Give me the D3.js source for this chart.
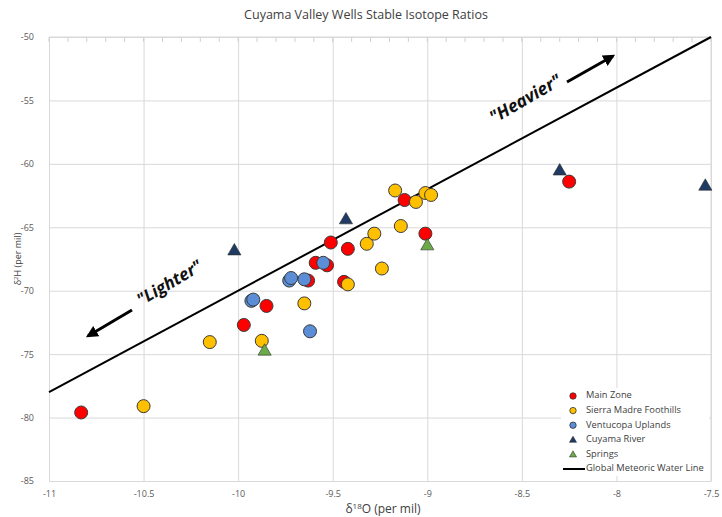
<!DOCTYPE html>
<html><head><meta charset="utf-8">
<script src="https://cdn.jsdelivr.net/npm/d3@7"></script>
<style>
body{margin:0;background:#fff;}
text{font-family:"Open Sans","Liberation Sans",sans-serif;}
</style></head>
<body><svg id="c" width="722" height="517"></svg>
<script>
const title = "Cuyama Valley Wells Stable Isotope Ratios";
const xTicks = [-11,-10.5,-10,-9.5,-9,-8.5,-8,-7.5];
const yTicks = [-85,-80,-75,-70,-65,-60,-55,-50];
const mainZone = [[-10.83,-79.6],[-9.97,-72.7],[-9.85,-71.2],[-9.51,-66.2],[-9.42,-66.7],[-9.59,-67.8],[-9.53,-68.0],[-9.63,-69.2],[-9.44,-69.3],[-9.12,-62.85],[-9.01,-65.5],[-8.25,-61.4]];
const sierraMadre = [[-10.50,-79.1],[-10.15,-74.05],[-9.875,-73.95],[-9.65,-71.0],[-9.42,-69.5],[-9.24,-68.25],[-9.32,-66.3],[-9.28,-65.5],[-9.14,-64.9],[-9.17,-62.1],[-9.06,-63.0],[-9.01,-62.3],[-8.98,-62.45]];
const ventucopa = [[-9.93,-70.8],[-9.92,-70.7],[-9.73,-69.2],[-9.72,-69.0],[-9.65,-69.1],[-9.55,-67.8],[-9.62,-73.2]];
const cuyamaRiver = [[-10.02,-66.8],[-9.43,-64.35],[-8.30,-60.5],[-7.53,-61.7]];
const springs = [[-9.86,-74.7],[-9.0,-66.4]];
const gmwlX = [-11,-7.5];
const gmwl = x => 8*x + 10;

const svg = d3.select("#c");
const L=49,R=711,T=37,B=481;
const x = d3.scaleLinear([-11,-7.5],[L,R]);
const y = d3.scaleLinear([-85,-50],[B,T]);

// gridlines
const gx = svg.append("g").attr("transform",`translate(0,${B})`)
  .call(d3.axisBottom(x).tickValues(xTicks).tickSizeInner(-(B-T)).tickSizeOuter(0).tickPadding(10).tickFormat(d=>String(d)));
const gy = svg.append("g").attr("transform",`translate(${L},0)`)
  .call(d3.axisLeft(y).tickValues(yTicks).tickSizeInner(-(R-L)).tickSizeOuter(0).tickPadding(15).tickFormat(d=>String(d)));
[gx,gy].forEach(g=>{
  g.select(".domain").attr("stroke","#d9d9d9");
  g.selectAll(".tick line").attr("stroke","#d9d9d9");
  g.selectAll(".tick text").attr("fill","#595959").style("font-size","9px");
});
// top axis minor ticks
const minor = d3.range(-11,-7.49,0.1);
svg.append("g").selectAll("line").data(minor).join("line")
  .attr("x1",d=>x(d)).attr("x2",d=>x(d)).attr("y1",T).attr("y2",T+5)
  .attr("stroke","#d0d0d0");
svg.append("line").attr("x1",L).attr("x2",R).attr("y1",T).attr("y2",T).attr("stroke","#d9d9d9");
svg.append("line").attr("x1",R).attr("x2",R).attr("y1",T).attr("y2",B).attr("stroke","#d9d9d9");

// GMWL
svg.append("line").attr("x1",x(gmwlX[0])).attr("y1",y(gmwl(gmwlX[0])))
  .attr("x2",x(gmwlX[1])).attr("y2",y(gmwl(gmwlX[1])))
  .attr("stroke","#000").attr("stroke-width",2);

// arrows
const defs = svg.append("defs");
defs.append("marker").attr("id","ah").attr("viewBox","0 0 10 10").attr("refX",8).attr("refY",5)
  .attr("markerWidth",4).attr("markerHeight",4).attr("orient","auto")
  .append("path").attr("d","M0,0L10,5L0,10z").attr("fill","#000");
svg.append("line").attr("x1",132).attr("y1",310).attr("x2",88).attr("y2",336)
  .attr("stroke","#000").attr("stroke-width",3).attr("marker-end","url(#ah)");
svg.append("line").attr("x1",567).attr("y1",82).attr("x2",613).attr("y2",56)
  .attr("stroke","#000").attr("stroke-width",3).attr("marker-end","url(#ah)");
svg.append("text").attr("transform","translate(170,284) rotate(-30.5)").attr("text-anchor","middle")
  .attr("dominant-baseline","middle").style("font-size","17px").style("font-weight","bold").style("font-style","italic")
  .attr("fill","#111").text("\"Lighter\"");
svg.append("text").attr("transform","translate(526,100) rotate(-30)").attr("text-anchor","middle")
  .attr("dominant-baseline","middle").style("font-size","17.5px").style("font-weight","bold").style("font-style","italic")
  .attr("fill","#111").text("\"Heavier\"");

// points
function circles(data,fill){
  svg.append("g").selectAll("circle").data(data).join("circle")
    .attr("cx",d=>x(d[0])).attr("cy",d=>y(d[1])).attr("r",6.5)
    .attr("fill",fill).attr("stroke","#3a3a3a").attr("stroke-width",1);
}
const tri = d3.symbol().type(d3.symbolTriangle).size(75);
function triangles(data,fill){
  svg.append("g").selectAll("path").data(data).join("path")
    .attr("transform",d=>`translate(${x(d[0])},${y(d[1])+1})`).attr("d",tri)
    .attr("fill",fill).attr("stroke","#2a2a2a").attr("stroke-width",0.6);
}
circles(mainZone,"#ff0000");
circles(sierraMadre,"#ffc000");
circles(ventucopa,"#5b8ed6");
triangles(cuyamaRiver,"#1f3b63");
triangles(springs,"#6aaa4a");

// legend
const lg = svg.append("g");
lg.append("rect").attr("x",561).attr("y",388).attr("width",148).attr("height",88).attr("fill","#fff");
const items = [
  {name:"Main Zone",type:"c",fill:"#ff0000"},
  {name:"Sierra Madre Foothills",type:"c",fill:"#ffc000"},
  {name:"Ventucopa Uplands",type:"c",fill:"#5b8ed6"},
  {name:"Cuyama River",type:"t",fill:"#1f3b63"},
  {name:"Springs",type:"t",fill:"#6aaa4a"},
  {name:"Global Meteoric Water Line",type:"l"}
];
const ly = d3.scaleLinear([0,5],[396,469]);
items.forEach((it,i)=>{
  const yy = ly(i);
  if(it.type==="c") lg.append("circle").attr("cx",573).attr("cy",yy).attr("r",3.2).attr("fill",it.fill).attr("stroke","#333").attr("stroke-width",0.8);
  else if(it.type==="t") lg.append("path").attr("transform",`translate(573,${yy+0.5})`).attr("d",d3.symbol().type(d3.symbolTriangle).size(22)).attr("fill",it.fill).attr("stroke","#222").attr("stroke-width",0.5);
  else lg.append("line").attr("x1",563).attr("x2",585).attr("y1",yy).attr("y2",yy).attr("stroke","#000").attr("stroke-width",2);
  lg.append("text").attr("x",586).attr("y",yy).attr("dominant-baseline","middle").style("font-size","9.3px").attr("fill","#404040").text(it.name);
});

// titles
svg.append("text").attr("x",366).attr("y",19).attr("text-anchor","middle").style("font-size","12.5px").attr("fill","#404040").text(title);
const xt = svg.append("text").attr("x",383).attr("y",513).attr("text-anchor","middle").style("font-size","12px").attr("fill","#404040");
xt.append("tspan").text("δ");
xt.append("tspan").attr("dy",-4).style("font-size","8px").text("18");
xt.append("tspan").attr("dy",4).text("O (per mil)");
const yt = svg.append("text").attr("transform","translate(21,259) rotate(-90)").attr("text-anchor","middle").style("font-size","9px").attr("fill","#404040");
yt.append("tspan").text("δ");
yt.append("tspan").attr("dy",-3).style("font-size","6px").text("2");
yt.append("tspan").attr("dy",3).text("H (per mil)");
</script></body></html>
